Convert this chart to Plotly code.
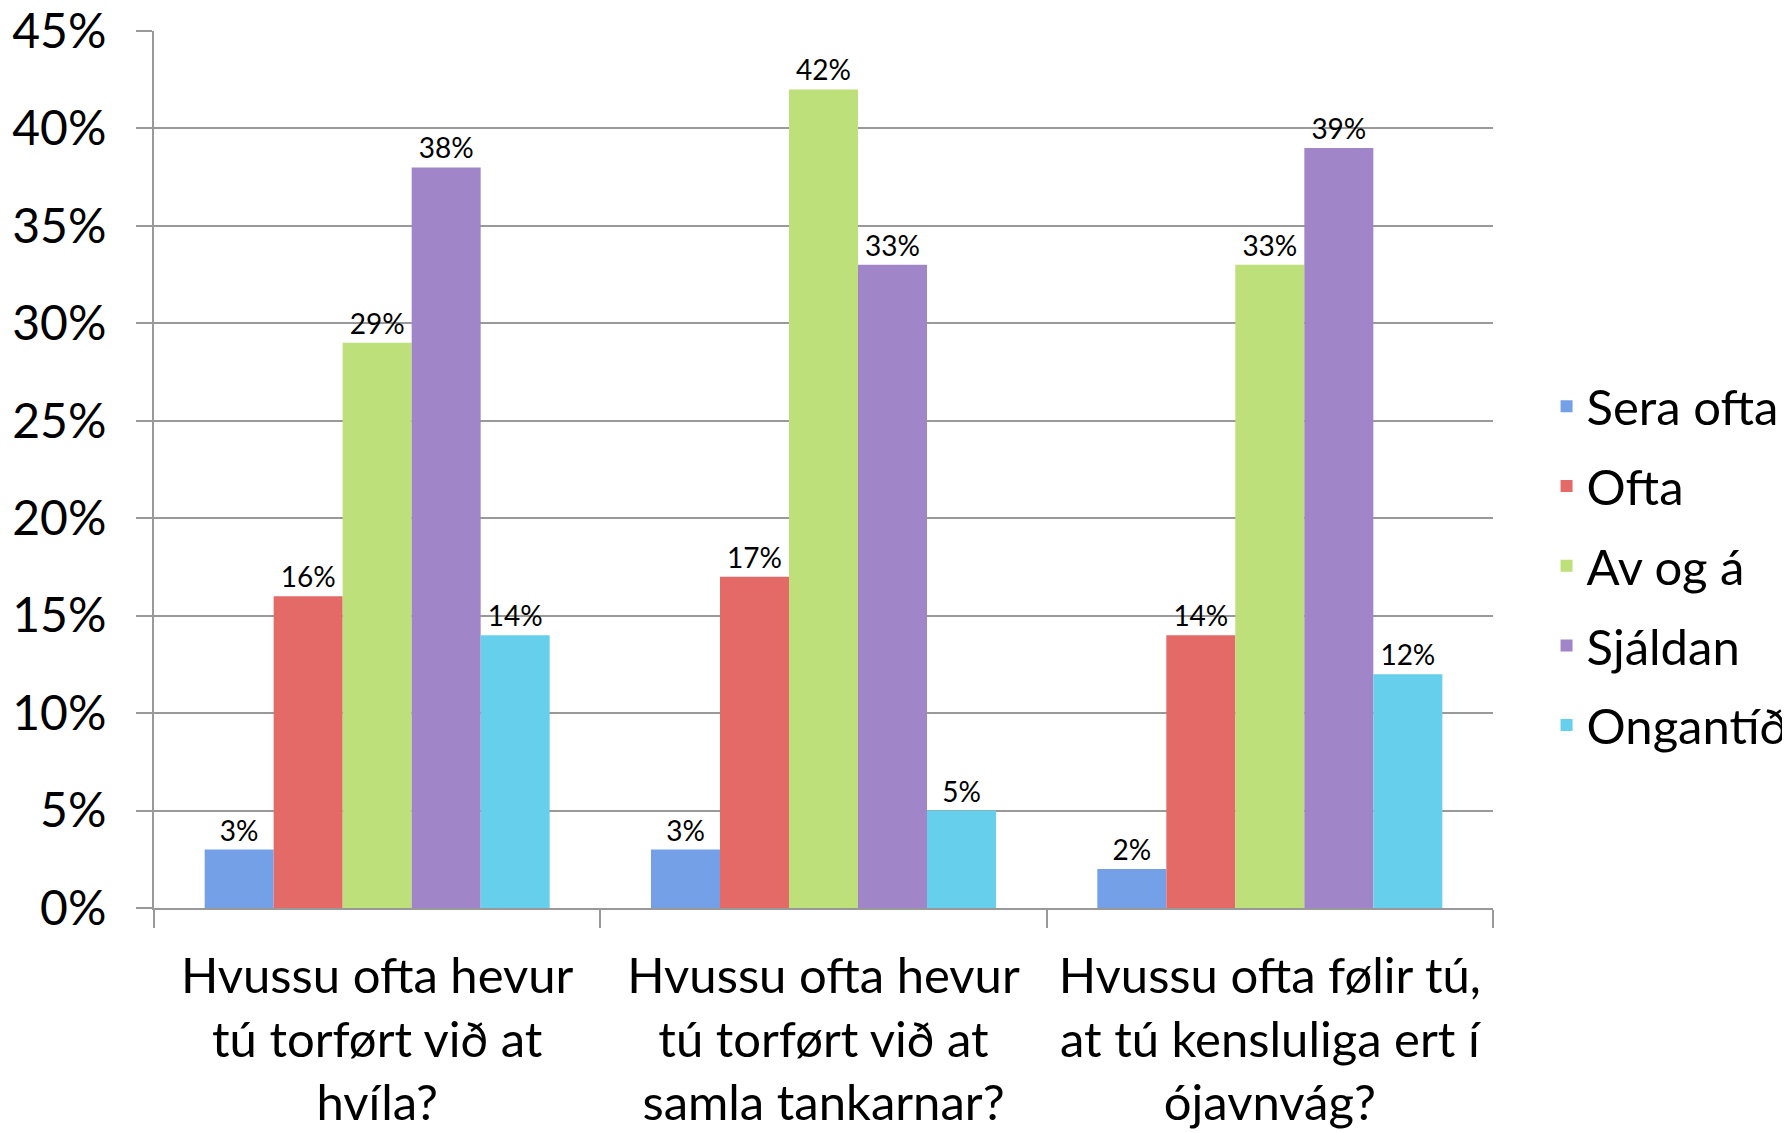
import plotly.graph_objects as go

categories = [
    "Hvussu ofta hevur<br>tú torført við at<br>hvíla?",
    "Hvussu ofta hevur<br>tú torført við at<br>samla tankarnar?",
    "Hvussu ofta følir tú,<br>at tú kensluliga ert í<br>ójavnvág?",
]
series_names = ["Sera ofta", "Ofta", "Av og á", "Sjáldan", "Ongantíð"]
sera_ofta = [3, 3, 2]
ofta = [16, 17, 14]
av_og_a = [29, 42, 33]
sjaldan = [38, 33, 39]
ongantid = [14, 5, 12]
y_ticks = [0, 5, 10, 15, 20, 25, 30, 35, 40, 45]

series_values = [sera_ofta, ofta, av_og_a, sjaldan, ongantid]
colors = ["#74a0e8", "#e46a68", "#bde07a", "#a086c8", "#66d0ec"]
FONT = "Lato"

fig = go.Figure()
for name, vals, col in zip(series_names, series_values, colors):
    fig.add_trace(
        go.Bar(
            x=categories,
            y=vals,
            name=name,
            legendgroup=name,
            marker=dict(color=col, line=dict(width=0)),
            text=[f"{v}%" for v in vals],
            texttemplate="%{text}",
            textposition="outside",
            constraintext="none",
            textfont=dict(family=FONT, size=28, color="black"),
            cliponaxis=False,
        )
    )

# the page body has an 8px margin, so the figure is 8px smaller and margins shifted
grid = "#999999"
fig.update_layout(
    width=1782,
    height=1125,
    barmode="group",
    bargap=0.227,
    bargroupgap=0,
    plot_bgcolor="white",
    paper_bgcolor="white",
    font=dict(family=FONT, color="black"),
    margin=dict(l=146, r=297, t=23, b=225, autoexpand=False),
    showlegend=True,
    legend=dict(
        x=1.040,
        xanchor="left",
        y=0.39,
        yanchor="middle",
        font=dict(family=FONT, size=49, color="black"),
        tracegroupgap=13,
        traceorder="grouped",
        bgcolor="rgba(0,0,0,0)",
    ),
)
fig.update_yaxes(
    automargin=False,
    range=[0, 45],
    tickvals=y_ticks,
    ticktext=[f"{t}%" for t in y_ticks],
    ticklabeloverflow="allow",
    showgrid=True,
    gridcolor=grid,
    gridwidth=2,
    zeroline=False,
    showline=True,
    linecolor=grid,
    linewidth=2,
    ticks="outside",
    ticklen=16,
    tickwidth=2,
    tickcolor=grid,
    tickfont=dict(family=FONT, size=48, color="black"),
    ticklabelstandoff=20,
)
fig.update_xaxes(
    automargin=False,
    showline=True,
    linecolor=grid,
    linewidth=2,
    ticks="outside",
    tickson="boundaries",
    ticklen=18,
    tickwidth=2,
    tickcolor=grid,
    tickfont=dict(family=FONT, size=49, color="black"),
    ticklabelstandoff=24,
    ticklabeloverflow="allow",
    showgrid=False,
)

fig.write_html("out.html")
